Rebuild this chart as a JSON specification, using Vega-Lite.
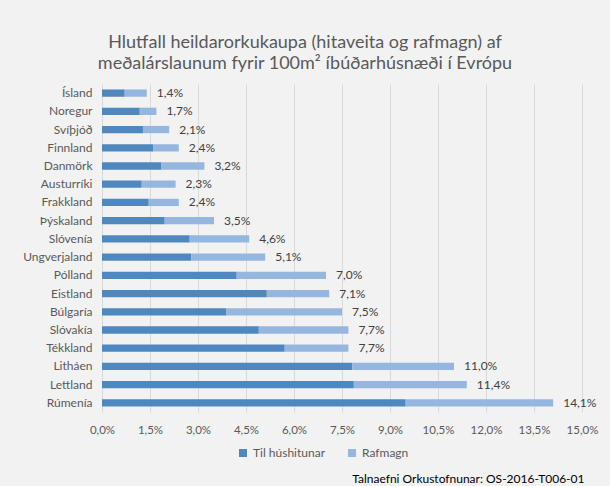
{
  "$schema": "https://vega.github.io/schema/vega-lite/v6.json",
  "autosize": {"type": "none"},
  "width": 480,
  "height": 328,
  "padding": {"left": 102, "top": 84, "right": 28, "bottom": 74},
  "background": "#f2f2f2",
  "title": {
    "text": ["Hlutfall heildarorkukaupa (hitaveita og rafmagn) af", "meðalárslaunum fyrir 100m² íbúðarhúsnæði í Evrópu"],
    "font": "Lato",
    "fontSize": 18,
    "fontWeight": "normal",
    "color": "#595959",
    "anchor": "middle",
    "dx": -37,
    "offset": 11,
    "lineHeight": 21
  },
  "data": {
    "values": [
      {"land": "Ísland", "Til húshitunar": 0.0071, "Rafmagn": 0.0069, "samtals": 0.014},
      {"land": "Noregur", "Til húshitunar": 0.0118, "Rafmagn": 0.0052, "samtals": 0.017},
      {"land": "Svíþjóð", "Til húshitunar": 0.0128, "Rafmagn": 0.0082, "samtals": 0.021},
      {"land": "Finnland", "Til húshitunar": 0.016, "Rafmagn": 0.008, "samtals": 0.024},
      {"land": "Danmörk", "Til húshitunar": 0.0186, "Rafmagn": 0.0134, "samtals": 0.032},
      {"land": "Austurríki", "Til húshitunar": 0.0124, "Rafmagn": 0.0106, "samtals": 0.023},
      {"land": "Frakkland", "Til húshitunar": 0.0146, "Rafmagn": 0.0094, "samtals": 0.024},
      {"land": "Þýskaland", "Til húshitunar": 0.0196, "Rafmagn": 0.0154, "samtals": 0.035},
      {"land": "Slóvenía", "Til húshitunar": 0.0274, "Rafmagn": 0.0186, "samtals": 0.046},
      {"land": "Ungverjaland", "Til húshitunar": 0.0279, "Rafmagn": 0.0231, "samtals": 0.051},
      {"land": "Pólland", "Til húshitunar": 0.0421, "Rafmagn": 0.0279, "samtals": 0.070},
      {"land": "Eistland", "Til húshitunar": 0.0515, "Rafmagn": 0.0195, "samtals": 0.071},
      {"land": "Búlgaría", "Til húshitunar": 0.0389, "Rafmagn": 0.0361, "samtals": 0.075},
      {"land": "Slóvakía", "Til húshitunar": 0.049, "Rafmagn": 0.028, "samtals": 0.077},
      {"land": "Tékkland", "Til húshitunar": 0.0571, "Rafmagn": 0.0199, "samtals": 0.077},
      {"land": "Litháen", "Til húshitunar": 0.0782, "Rafmagn": 0.0318, "samtals": 0.110},
      {"land": "Lettland", "Til húshitunar": 0.0787, "Rafmagn": 0.0353, "samtals": 0.114},
      {"land": "Rúmenía", "Til húshitunar": 0.0949, "Rafmagn": 0.0461, "samtals": 0.141}
    ]
  },
  "encoding": {
    "y": {
      "field": "land",
      "type": "nominal",
      "sort": null,
      "scale": {"paddingInner": 0.6, "paddingOuter": 0.3},
      "axis": {
        "title": null,
        "ticks": false,
        "domain": false,
        "grid": false,
        "labelFont": "Lato",
        "labelFontSize": 12,
        "labelColor": "#595959",
        "labelPadding": 10
      }
    }
  },
  "layer": [
    {
      "transform": [
        {"fold": ["Til húshitunar", "Rafmagn"], "as": ["flokkur", "gildi"]},
        {"calculate": "datum.flokkur === 'Til húshitunar' ? 0 : 1", "as": "rod"}
      ],
      "mark": {"type": "bar"},
      "encoding": {
        "x": {
          "field": "gildi",
          "type": "quantitative",
          "stack": "zero",
          "scale": {"domain": [0, 0.15], "nice": false},
          "axis": {
            "values": [0, 0.015, 0.03, 0.045, 0.06, 0.075, 0.09, 0.105, 0.12, 0.135, 0.15],
            "labelExpr": "replace(format(datum.value, '.1%'), '.', ',')",
            "labelOverlap": false,
            "labelFlush": false,
            "labelBound": false,
            "grid": true,
            "gridColor": "#d9d9d9",
            "ticks": false,
            "domain": false,
            "labelFont": "Lato",
            "labelFontSize": 11.5,
            "labelColor": "#595959",
            "labelPadding": 12,
            "title": "Talnaefni Orkustofnunar: OS-2016-T006-01",
            "titleFont": "Lato",
            "titleFontSize": 12,
            "titleFontWeight": "normal",
            "titleColor": "#000000",
            "titleAnchor": "end",
            "titleAlign": "right",
            "titleX": 482,
            "titleY": 66,
            "titleBaseline": "middle"
          }
        },
        "color": {
          "field": "flokkur",
          "type": "nominal",
          "scale": {"domain": ["Til húshitunar", "Rafmagn"], "range": ["#4f87bf", "#95b7df"]},
          "legend": {
            "title": null,
            "orient": "none",
            "direction": "horizontal",
            "legendX": 135,
            "legendY": 363,
            "symbolType": "square",
            "symbolSize": 64,
            "symbolStrokeWidth": 0,
            "labelFont": "Lato",
            "labelFontSize": 12,
            "labelColor": "#595959",
            "columnPadding": 20
          }
        },
        "order": {"field": "rod", "type": "quantitative"}
      }
    },
    {
      "mark": {"type": "text", "align": "left", "baseline": "middle", "dx": 10, "font": "Lato", "fontSize": 12, "color": "#404040"},
      "encoding": {
        "x": {"field": "samtals", "type": "quantitative"},
        "text": {"field": "samtals", "type": "quantitative", "format": ".1%"}
      }
    }
  ],
  "config": {
    "view": {"stroke": null},
    "locale": {"number": {"decimal": ",", "thousands": ".", "grouping": [3], "currency": ["", " kr."]}}
  }
}
